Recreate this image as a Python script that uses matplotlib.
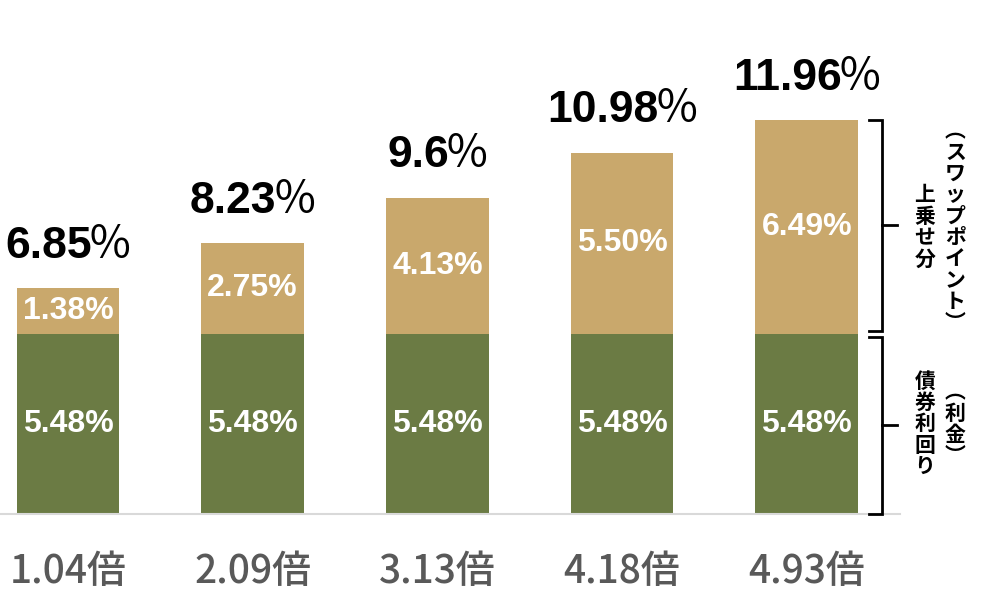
import numpy as np
import matplotlib
matplotlib.use('Agg')
import matplotlib.pyplot as plt

# ── data ─────────────────────────────────────────────────────────────────────
categories = ['1.04倍', '2.09倍', '3.13倍', '4.18倍', '4.93倍']
bond_yield = [5.48, 5.48, 5.48, 5.48, 5.48]
swap_points = [1.38, 2.75, 4.13, 5.50, 6.49]
totals = ['6.85', '8.23', '9.6', '10.98', '11.96']
# ─────────────────────────────────────────────────────────────────────────────

GREEN = '#6B7B44'
TAN = '#C9A86C'
NUM_FONT = ['Liberation Sans', 'Noto Sans CJK JP']
JP_FONT = ['Noto Sans CJK JP', 'DejaVu Sans']

fig = plt.figure(figsize=(9.95, 6.0), dpi=100)
ax = fig.add_axes([0.0, 0.1433, 900 / 995, 1 - 0.1433])

x = np.arange(len(categories))
bw = 0.557
bond = np.array(bond_yield)
swap = np.array(swap_points)

ax.bar(x, bond, width=bw, color=GREEN, zorder=2)
ax.bar(x, swap, width=bw, bottom=bond, color=TAN, zorder=2)

ax.set_xlim(-0.368, 4.505)
ax.set_ylim(0, 15.62)

# inner labels
for xi, b, s in zip(x, bond, swap):
    ax.text(xi, b / 2, f'{b:.2f}%', ha='center', va='center', color='white',
            fontsize=23, fontweight='bold', family=NUM_FONT, zorder=3)
    ax.text(xi, b + s / 2, f'{s:.2f}%', ha='center', va='center', color='white',
            fontsize=23, fontweight='bold', family=NUM_FONT, zorder=3)

# totals above bars: bold number + thin full-width ％
renderer = fig.canvas.get_renderer()
for xi, b, s, t in zip(x, bond, swap, totals):
    num = ax.annotate(t, (xi, b + s), xytext=(0, 22), textcoords='offset points',
                      ha='center', va='baseline', fontsize=32, fontweight='bold',
                      family=['Liberation Sans'], color='black')
    pct = ax.annotate('％', (xi, b + s), xytext=(0, 22), textcoords='offset points',
                      ha='left', va='baseline', fontsize=32,
                      family=JP_FONT, color='black')
    wn = num.get_window_extent(renderer).width * 72 / fig.dpi
    wp = pct.get_window_extent(renderer).width * 72 / fig.dpi
    num.set_position((-wp / 2 + 2, 22))
    pct.set_position((wn / 2 - wp / 2 - 1, 22))

# axes styling
for sp in ['top', 'right', 'left']:
    ax.spines[sp].set_visible(False)
ax.spines['bottom'].set_color('#D9D9D9')
ax.spines['bottom'].set_linewidth(1.5)
ax.set_yticks([])
ax.set_xticks(x)
ax.set_xticklabels(categories, family=JP_FONT, fontsize=28, color='#595959',
                   fontweight='medium')
ax.tick_params(axis='x', length=0, pad=27)

# braces on the right
top = bond[-1] + swap[-1]
bx, bl, br = 4.406, 4.336, 4.487
gap = 0.09
for y0, y1 in [(bond[-1] + gap, top), (0, bond[-1] - gap)]:
    ym = (y0 + y1) / 2
    ax.plot([bl, bx, bx, bl], [y1, y1, y0, y0], color='black', lw=2,
            clip_on=False, solid_joinstyle='miter', zorder=5)
    ax.plot([bx, br], [ym, ym], color='black', lw=2, clip_on=False, zorder=5)

def vtext(xp, yp, s):
    ax.text(xp, yp, '\n'.join(s), ha='center', va='center', fontsize=15,
            fontweight='bold', family=JP_FONT, linespacing=1.02, clip_on=False)

mid_top = (bond[-1] + top) / 2
mid_bot = bond[-1] / 2
vtext(4.64, mid_top, '上乗せ分')
vtext(4.805, mid_top, '︵スワップポイント︶')
vtext(4.64, mid_bot, '債券利回り')
vtext(4.805, mid_bot, '︵利金︶')

fig.savefig('out.png', dpi=100)
